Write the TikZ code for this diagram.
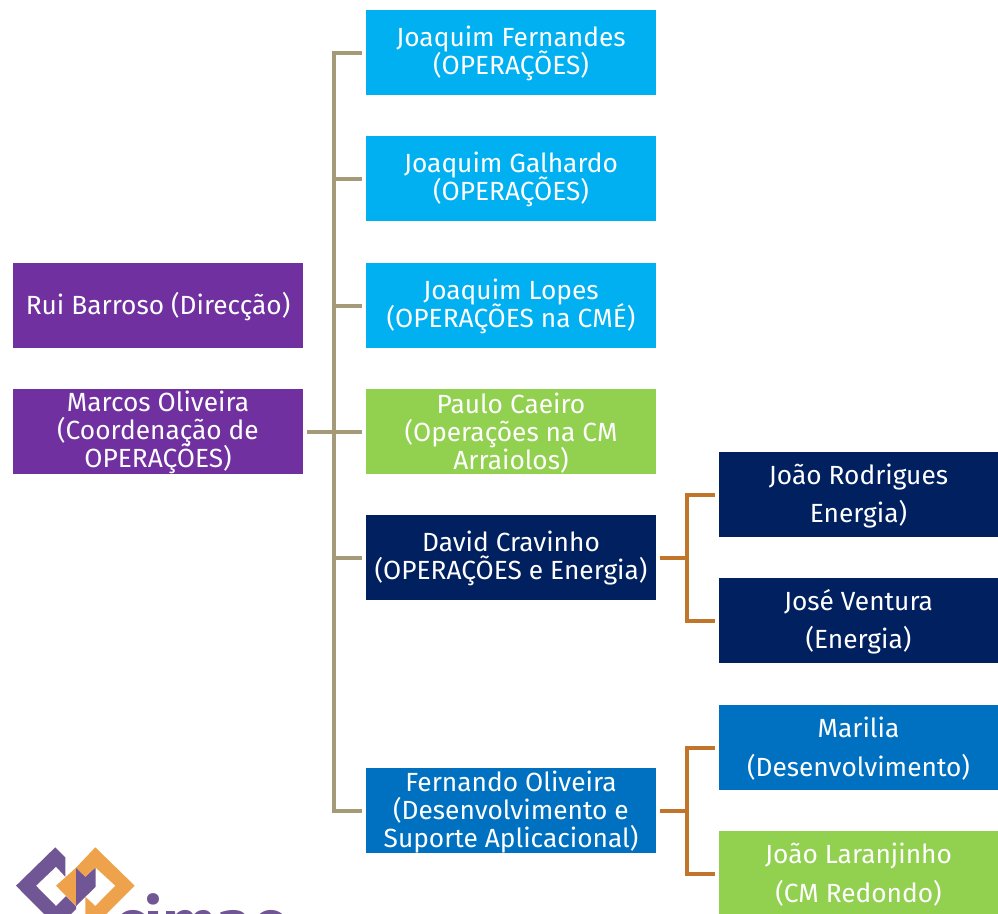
\documentclass[tikz,border=0pt]{standalone}
\usepackage{fontspec}
\setmainfont{Fira Sans}
\definecolor{cpurple}{HTML}{7030A0}
\definecolor{ccyan}{HTML}{00B0F0}
\definecolor{cgreen}{HTML}{92D050}
\definecolor{cnavy}{HTML}{002060}
\definecolor{cblue}{HTML}{0070C0}
\definecolor{ctan}{HTML}{A59A77}
\definecolor{corange}{HTML}{C0752A}
\definecolor{logop}{HTML}{705694}
\definecolor{logoo}{HTML}{EEA24C}
\newcommand{\tightlines}{\lineskiplimit -30pt\relax}
\tikzset{
 box/.style={minimum width=290pt,minimum height=85pt,inner sep=0pt,outer sep=0pt},
 sbox/.style={box,minimum width=279pt},
 boxtext/.style={inner sep=0pt,text=white,align=center,yshift=-1.3pt,font=\fontsize{26.3}{28}\selectfont\tightlines},
 sboxtext/.style={boxtext,font=\fontsize{26.3}{38.5}\selectfont\tightlines},
 tanline/.style={draw=ctan,line width=4pt,shorten >=4pt,shorten <=4pt},
 orline/.style={draw=corange,line width=4pt,shorten >=4pt,shorten <=4pt},
}
\begin{document}
\begin{tikzpicture}[x=1pt,y=-1pt]
\useasboundingbox (0,0) rectangle (998,913);
\clip (0,0) rectangle (998,913);
\node[box,fill=cpurple] (rui) at (158,305.5) {};
\node[box,fill=cpurple] (marcos) at (158,431.5) {};
\node[box,fill=ccyan] (jf) at (511,52.5) {};
\node[box,fill=ccyan] (jg) at (511,178.5) {};
\node[box,fill=ccyan] (jl) at (511,305.5) {};
\node[box,fill=cgreen] (pc) at (511,431.5) {};
\node[box,fill=cnavy] (dc) at (511,557.5) {};
\node[box,fill=cblue] (fo) at (511,810.5) {};
\node[sbox,fill=cnavy] (jr) at (858.5,494.5) {};
\node[sbox,fill=cnavy] (jv) at (858.5,620.5) {};
\node[sbox,fill=cblue] (ma) at (858.5,747.5) {};
\node[sbox,fill=cgreen] (jo) at (858.5,873.5) {};
\node[boxtext] (ruit) at (rui) {Rui Barroso (Direcção)};
\node[boxtext] (marcost) at (marcos) {Marcos Oliveira\\(Coordenação de\\OPERAÇÕES)};
\node[boxtext] (jft) at (jf) {Joaquim Fernandes\\(OPERAÇÕES)};
\node[boxtext] (jgt) at (jg) {Joaquim Galhardo\\(OPERAÇÕES)};
\node[boxtext] (jlt) at (jl) {Joaquim Lopes\\(OPERAÇÕES na CMÉ)};
\node[boxtext] (pct) at (pc) {Paulo Caeiro\\(Operações na CM\\Arraiolos)};
\node[boxtext] (dct) at (dc) {David Cravinho\\(OPERAÇÕES e Energia)};
\node[boxtext] (fot) at (fo) {Fernando Oliveira\\(Desenvolvimento e\\Suporte Aplicacional)};
\node[sboxtext] (jrt) at (jr) {João Rodrigues\\Energia)};
\node[sboxtext] (jvt) at (jv) {José Ventura\\(Energia)};
\node[sboxtext] (mat) at (ma) {Marilia\\(Desenvolvimento)};
\node[sboxtext] (jot) at (jo) {João Laranjinho\\(CM Redondo)};
\foreach \c in {jf,jg,jl,pc,dc,fo}
  \draw[tanline] (marcos.east) -- ++(31,0) |- (\c.west);
\foreach \c in {jr,jv}
  \draw[orline] (dc.east) -- ++(31,0) |- (\c.west);
\foreach \c in {ma,jo}
  \draw[orline] (fo.east) -- ++(31,0) |- (\c.west);
% logo
\fill[logop] (16,885.7) -- (55.3,847.3) -- (65.3,857.3) -- (65.3,876.7) -- (56,866.7) -- (36,885.7) -- (56,906) -- (66,896) -- (76,906) -- (76,909) -- (60,925) -- (55,925) -- cycle;
\fill[logoo] (56,885.7) -- (76,867.7) -- (76,906) -- cycle;
\fill[logop] (76,867.7) -- (85.3,876.7) -- (95.7,867.3) -- (95.7,886.7) -- (76,906) -- cycle;
\fill[logoo] (76,867.7) -- (95.3,847.3) -- (134.7,885.7) -- (95.3,925) -- (85.3,915) -- (85.3,896.7) -- (95.3,906) -- (115.3,885.7) -- (95.3,867.3) -- (85.3,876.7) -- cycle;
\node[text=logop,anchor=base west,inner sep=0pt,font=\fontsize{64}{66}\selectfont\bfseries] (logotext) at (114,945) {cimac};
\end{tikzpicture}
\end{document}
